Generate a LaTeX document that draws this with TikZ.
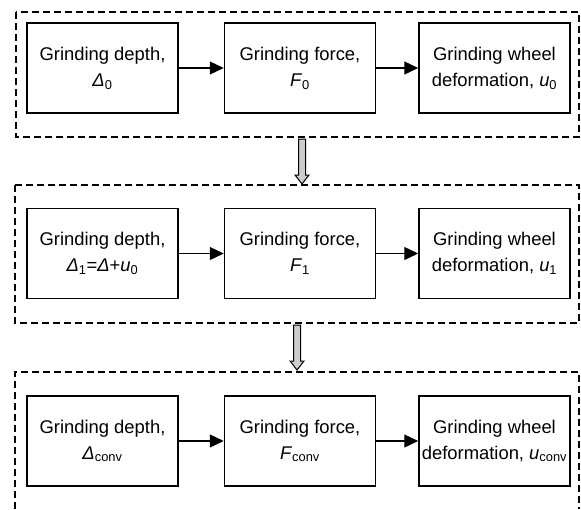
\documentclass[tikz,border=0pt]{standalone}
\usepackage{fontspec}
\setmainfont{Liberation Sans}
\usetikzlibrary{arrows.meta, positioning, calc}

\newcommand\lo[1]{\textsubscript{#1}}
\newcommand\hollowarrow[2]{%
  \path let \p1=(#1), \p2=(#2) in
    [hollow] (\x1-3.5pt,\y1) -- (\x1+3.5pt,\y1) -- (\x1+3.5pt,\y2+9pt)
    -- (\x1+7pt,\y2+9pt) -- (\x1,\y2) -- (\x1-7pt,\y2+9pt)
    -- (\x1-3.5pt,\y2+9pt) -- cycle;}

\tikzset{
  stage/.style={draw, line width=1.5pt, minimum width=151pt, minimum height=90pt,
    inner sep=0pt, align=center, font=\fontsize{18.4}{26}\selectfont},
  frame/.style={line width=1.3pt, dash pattern=on 7pt off 4pt},
  flow/.style={line width=1.3pt, -{Triangle[length=14pt,width=13pt]}},
  hollow/.style={fill=black!20, draw=black, line width=1pt}
}

\begin{document}
\begin{tikzpicture}[x=1pt, y=-1pt]
\useasboundingbox (0,0) rectangle (581,509);

%first pass
\node[stage] (depth0) at (102.5,68) {Grinding depth,\\\textit{Δ}\lo{0}};
\node[stage, right=45pt of depth0] (force0) {Grinding force,\\\textit{F}\lo{0}};
\node[stage, right=42pt of force0] (defo0) {Grinding wheel\\deformation, \textit{u}\lo{0}};

%second pass
\node[stage, below=94pt of depth0] (depth1) {Grinding depth,\\\textit{Δ}\lo{1}=\textit{Δ}+\textit{u}\lo{0}};
\node[stage, below=94pt of force0] (force1) {Grinding force,\\\textit{F}\lo{1}};
\node[stage, below=94pt of defo0] (defo1) {Grinding wheel\\deformation, \textit{u}\lo{1}};

%converged
\node[stage, below=96pt of depth1] (depthc) {Grinding depth,\\\textit{Δ}\lo{conv}};
\node[stage, below=96pt of force1] (forcec) {Grinding force,\\\textit{F}\lo{conv}};
\node[stage, below=96pt of defo1] (defoc) {Grinding wheel\\deformation, \textit{u}\lo{conv}};

\foreach \a/\b in {depth0/force0, force0/defo0, depth1/force1, force1/defo1, depthc/forcec, forcec/defoc}{
  \draw[flow] (\a) -- (\b);
}

%frames
\draw[frame] (16,12) rectangle (579,137);
\draw[frame] (15,185) rectangle (579,323);
\draw[frame] (15,509) -- (15,372) -- (579,372) -- (579,509);

\coordinate (out0) at (302,139);
\coordinate (in1) at (302,184);
\coordinate (out1) at (297,325);
\coordinate (in2) at (297,370);
\hollowarrow{out0}{in1}
\hollowarrow{out1}{in2}

\end{tikzpicture}
\end{document}
